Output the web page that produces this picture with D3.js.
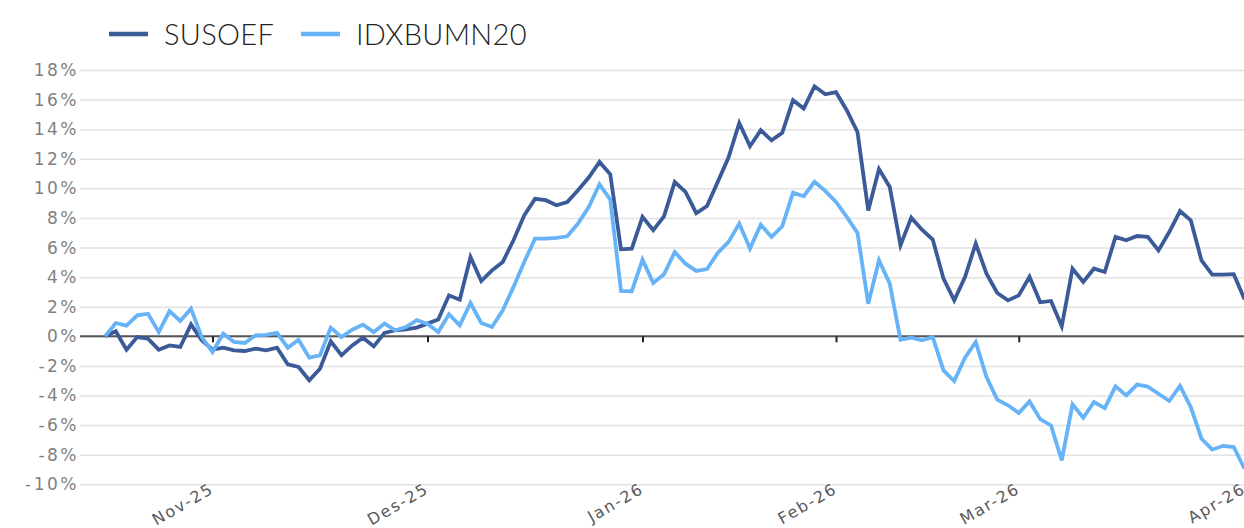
<!DOCTYPE html>
<html>
<head>
<meta charset="utf-8">
<script src="https://cdn.jsdelivr.net/npm/d3@7"></script>
<style>
  html, body { margin: 0; padding: 0; background: #fff; }
  svg { display: block; }
</style>
</head>
<body>
<svg id="chart" width="1244" height="528"></svg>
<script>
// series names and colours
var seriesNames = ['SUSOEF', 'IDXBUMN20'];

// month ticks (position in trading-day index) and their labels
var monthTickIdx = [10, 30, 50, 68, 85, 106];
var monthLabels = ['Nov-25', 'Des-25', 'Jan-26', 'Feb-26', 'Mar-26', 'Apr-26'];

var yTicks = [-10, -8, -6, -4, -2, 0, 2, 4, 6, 8, 10, 12, 14, 16, 18];

// cumulative return, % (one value per trading day)
var susoef = [
  0, 0.34, -0.9, -0.05, -0.16, -0.9, -0.61, -0.72, 0.81, -0.27,
  -0.9, -0.77, -0.95, -0.99, -0.83, -0.95, -0.77, -1.89, -2.07, -2.97,
  -2.19, -0.34, -1.28, -0.61, -0.09, -0.68, 0.23, 0.41, 0.47, 0.59,
  0.86, 1.13, 2.77, 2.48, 5.36, 3.74, 4.46, 5.03, 6.49, 8.18,
  9.29, 9.2, 8.86, 9.08, 9.87, 10.73, 11.79, 10.95, 5.88, 5.93,
  8.07, 7.17, 8.11, 10.43, 9.76, 8.32, 8.81, 10.44, 12.08, 14.42,
  12.85, 13.93, 13.25, 13.75, 15.96, 15.39, 16.9, 16.36, 16.5, 15.28,
  13.8, 8.5, 11.3, 10.1, 6.15, 8.02, 7.21, 6.54, 3.9, 2.43,
  4.01, 6.27, 4.24, 2.93, 2.43, 2.77, 4.03, 2.3, 2.39, 0.68,
  4.58, 3.67, 4.58, 4.35, 6.72, 6.49, 6.78, 6.72, 5.81, 7.05,
  8.47, 7.84, 5.14, 4.17, 4.17, 4.2, 2.5
];

var idxbumn20 = [
  0, 0.9, 0.72, 1.42, 1.53, 0.29, 1.71, 1.04, 1.87, -0.05,
  -1.06, 0.18, -0.38, -0.45, 0.07, 0.1, 0.23, -0.77, -0.23, -1.44,
  -1.28, 0.59, -0.05, 0.45, 0.79, 0.29, 0.86, 0.41, 0.63, 1.1,
  0.83, 0.29, 1.49, 0.74, 2.25, 0.9, 0.63, 1.76, 3.34, 5.03,
  6.6, 6.6, 6.65, 6.76, 7.62, 8.74, 10.28, 9.24, 3.07, 3.04,
  5.18, 3.61, 4.19, 5.7, 4.91, 4.42, 4.55, 5.63, 6.38, 7.62,
  5.93, 7.55, 6.72, 7.44, 9.71, 9.47, 10.44, 9.83, 9.08, 8.07,
  6.99, 2.2, 5.14, 3.56, -0.23, -0.09, -0.27, -0.05, -2.3, -3.02,
  -1.44, -0.38, -2.75, -4.28, -4.66, -5.18, -4.4, -5.6, -6.02, -8.38,
  -4.6, -5.5, -4.44, -4.85, -3.38, -3.99, -3.26, -3.4, -3.88, -4.37,
  -3.35, -4.78, -6.92, -7.66, -7.4, -7.48, -8.95
];

var colors = ['#3a5a98', '#66b3f7'];

var svg = d3.select('#chart');
var plotLeft = 80;
var plotRight = 1244;

var x = d3.scaleLinear().domain([0, susoef.length - 1]).range([105, 1244.5]);
var y = d3.scaleLinear().domain([-10, 18]).range([484.3, 70]);

// gridlines + y labels
var yAxis = svg.append('g')
  .attr('transform', `translate(${plotLeft},0)`)
  .call(d3.axisLeft(y)
    .tickValues(yTicks)
    .tickSize(-(plotRight - plotLeft))
    .tickPadding(1)
    .tickFormat(d => d + '%'));
yAxis.select('.domain').remove();
yAxis.selectAll('.tick line')
  .attr('stroke', '#e2e2e2')
  .attr('stroke-width', 1.5);
yAxis.selectAll('.tick text')
  .attr('fill', '#7f7f7f')
  .style('font-family', '"DejaVu Sans", sans-serif')
  .style('font-size', '17px')
  .style('letter-spacing', '2.5px');

// zero line
svg.append('line')
  .attr('x1', plotLeft)
  .attr('x2', plotRight)
  .attr('y1', y(0))
  .attr('y2', y(0))
  .attr('stroke', '#555')
  .attr('stroke-width', 2);

// month ticks on the zero line
var xAxis = svg.append('g')
  .attr('transform', `translate(0,${y(0)})`)
  .call(d3.axisBottom(x)
    .tickValues(monthTickIdx)
    .tickSize(6)
    .tickFormat((d, i) => monthLabels[i]));
xAxis.select('.domain').remove();
xAxis.selectAll('.tick line')
  .attr('stroke', '#222')
  .attr('stroke-width', 2);
xAxis.selectAll('.tick text')
  .attr('fill', '#595959')
  .attr('text-anchor', 'end')
  .attr('y', 0)
  .attr('dy', 0)
  .attr('transform', `translate(2,${492 - y(0)}) rotate(-30)`)
  .style('font-family', '"DejaVu Sans", sans-serif')
  .style('font-size', '16px')
  .style('letter-spacing', '1.8px');

// lines
var line = d3.line()
  .x((d, i) => x(i))
  .y(d => y(d));

[susoef, idxbumn20].forEach((s, k) => {
  svg.append('path')
    .datum(s)
    .attr('fill', 'none')
    .attr('stroke', colors[k])
    .attr('stroke-width', 3.8)
    .attr('stroke-linejoin', 'miter')
    .attr('d', line);
});

// legend
var legendX = [109, 301];
var legend = svg.append('g');
seriesNames.forEach((name, k) => {
  legend.append('line')
    .attr('x1', legendX[k])
    .attr('x2', legendX[k] + 39)
    .attr('y1', 34)
    .attr('y2', 34)
    .attr('stroke', colors[k])
    .attr('stroke-width', 4.6);
  legend.append('text')
    .attr('x', legendX[k] + 55)
    .attr('y', 45)
    .attr('fill', '#222')
    .style('font-family', 'Lato, "Open Sans", sans-serif')
    .style('font-weight', 300)
    .style('font-size', '29px')
    .style('letter-spacing', '0.3px')
    .text(name);
});
</script>
</body>
</html>
